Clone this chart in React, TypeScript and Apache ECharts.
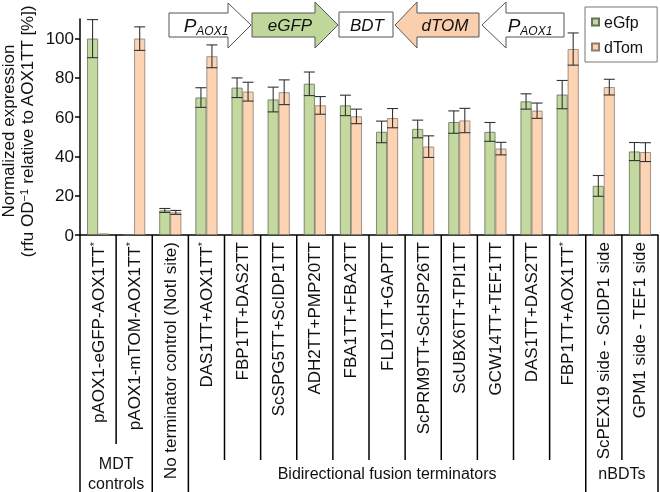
import { useEffect, useRef } from "react";
import * as echarts from "echarts";

const categories = [
  "pAOX1-eGFP-AOX1TT*",
  "pAOX1-mTOM-AOX1TT*",
  "No terminator control (NotI site)",
  "DAS1TT+AOX1TT*",
  "FBP1TT+DAS2TT",
  "ScSPG5TT+ScIDP1TT",
  "ADH2TT+PMP20TT",
  "FBA1TT+FBA2TT",
  "FLD1TT+GAPTT",
  "ScPRM9TT+ScHSP26TT",
  "ScUBX6TT+TPI1TT",
  "GCW14TT+TEF1TT",
  "DAS1TT+DAS2TT",
  "FBP1TT+AOX1TT*",
  "ScPEX19 side - ScIDP1 side",
  "GPM1 side - TEF1 side",
];
const egfp = [100, 0.3, 12.5, 70, 75, 69, 77, 66, 52.5, 54, 57.5, 52.5, 68, 71.5, 25, 42.5];
const egfpErr = [9.7, 0, 1, 5, 5, 6.3, 6, 5.2, 5.5, 4.5, 5.7, 4.8, 3.9, 7.2, 5.3, 4.6];
const dtom = [0.8, 100, 11.5, 91, 73, 72.7, 66, 60.4, 59.5, 45, 58.3, 44, 63.3, 94.7, 75.3, 42.2];
const dtomErr = [0, 6, 1, 5.8, 4.8, 6.3, 4.5, 3.7, 4.9, 5.5, 6.2, 3.2, 3.9, 8.2, 4, 4.8];
const yTicks = [0, 20, 40, 60, 80, 100];
const groups = [
  { label: "MDT\ncontrols", from: 0, to: 2 },
  { label: "", from: 2, to: 3 },
  { label: "Bidirectional fusion terminators", from: 3, to: 14 },
  { label: "nBDTs", from: 14, to: 16 },
];

const FONT = "Liberation Sans, Arial, Helvetica, sans-serif";
const GREEN = "#c3d9a0";
const PEACH = "#fcd3b3";
const BAR_W = 11;

function errorSeries(name: string, vals: number[], errs: number[], offset: number) {
  return {
    name,
    type: "custom",
    z: 5,
    silent: true,
    data: vals.map((v, i) => [i, v, errs[i]]),
    encode: { x: 0, y: 1 },
    renderItem: (params: any, api: any) => {
      const i = api.value(0);
      const v = api.value(1);
      const e = api.value(2);
      if (!e) return null;
      const hi = api.coord([i, v + e]);
      const lo = api.coord([i, v - e]);
      const x = hi[0] + offset;
      const h = BAR_W / 2;
      const st = { stroke: "#333", lineWidth: 1.1 };
      return {
        type: "group",
        children: [
          { type: "line", shape: { x1: x, y1: hi[1], x2: x, y2: lo[1] }, style: st },
          { type: "line", shape: { x1: x - h, y1: hi[1], x2: x + h, y2: hi[1] }, style: st },
          { type: "line", shape: { x1: x - h, y1: lo[1], x2: x + h, y2: lo[1] }, style: st },
        ],
      };
    },
  };
}

function arrowText(x: number, y: number, text: string) {
  return {
    type: "text",
    x,
    y,
    z: 20,
    style: {
      text,
      align: "center",
      verticalAlign: "middle",
      fill: "#111",
      fontFamily: FONT,
      fontStyle: "italic",
      fontSize: 17,
      rich: {
        p: { fontSize: 19, fontStyle: "italic", fontFamily: FONT, lineHeight: 24, fill: "#111" },
        s: { fontSize: 12, fontStyle: "italic", fontFamily: FONT, lineHeight: 13, verticalAlign: "bottom", fill: "#111" },
      },
    },
  };
}

function diagram() {
  const stroke = { stroke: "#555", lineWidth: 1 };
  return [
    { type: "polygon", z: 19, shape: { points: [[169, 13], [228, 13], [228, 3], [251, 25], [228, 48], [228, 37], [169, 37]] }, style: { fill: "#fff", ...stroke } },
    { type: "polygon", z: 19, shape: { points: [[252, 13], [315, 13], [315, 2], [338, 25], [315, 48], [315, 37], [252, 37]] }, style: { fill: "#c0d79c", ...stroke } },
    { type: "rect", z: 19, shape: { x: 339, y: 12, width: 54, height: 25 }, style: { fill: "#fff", ...stroke } },
    { type: "polygon", z: 19, shape: { points: [[395, 25], [417, 2], [417, 13], [479, 13], [479, 37], [417, 37], [417, 48]] }, style: { fill: "#f9cfad", ...stroke } },
    { type: "polygon", z: 19, shape: { points: [[482, 25], [506, 2], [506, 13], [564, 13], [564, 37], [506, 37], [506, 48]] }, style: { fill: "#fff", ...stroke } },
    arrowText(206, 25, "{p|P}{s|AOX1}"),
    arrowText(290, 25, "eGFP"),
    arrowText(367, 25, "BDT"),
    arrowText(445, 25, "dTOM"),
    arrowText(530, 25, "{p|P}{s|AOX1}"),
  ];
}

export default function App() {
  const ref = useRef<HTMLDivElement>(null);

  useEffect(() => {
    if (!ref.current) return;
    const chart = echarts.init(ref.current, null, { renderer: "svg" });
    const option: any = {
      animation: false,
      textStyle: { fontFamily: FONT },
      grid: { left: 80, right: 2, top: 19, bottom: 257 },
      legend: {
        data: ["eGfp", "dTom"],
        orient: "vertical",
        left: 585,
        top: 7,
        padding: [7, 14, 7, 6],
        itemGap: 9,
        itemWidth: 7,
        itemHeight: 7,
        icon: "rect",
        borderColor: "#777",
        borderWidth: 1,
        textStyle: { fontSize: 16, color: "#111", fontFamily: FONT, lineHeight: 16 },
      },
      xAxis: {
        type: "category",
        data: categories,
        axisLine: { lineStyle: { color: "#000", width: 1.5 } },
        axisTick: { show: false },
        axisLabel: {
          interval: 0,
          rotate: 90,
          margin: 7,
          color: "#111",
          formatter: (v: string) => (v.endsWith("*") ? `{n|${v.slice(0, -1)}}{s|*}` : `{n|${v}}`),
          rich: {
            n: { fontSize: 17, fontFamily: FONT, color: "#111", lineHeight: 20 },
            s: { fontSize: 11, fontFamily: FONT, color: "#111", lineHeight: 11, verticalAlign: "top" },
          },
        },
      },
      yAxis: {
        type: "value",
        min: 0,
        max: 110,
        interval: 20,
        splitLine: { show: false },
        axisLine: { show: true, lineStyle: { color: "#000", width: 1.5 } },
        axisTick: { show: true, length: 5, customValues: yTicks, lineStyle: { color: "#000", width: 1.5 } },
        axisLabel: { customValues: yTicks, fontSize: 17, color: "#111", margin: 6, fontFamily: FONT },
      },
      series: [
        {
          name: "eGfp",
          type: "bar",
          data: egfp,
          barWidth: BAR_W,
          barGap: "0%",
          itemStyle: { color: GREEN, borderColor: "#66705a", borderWidth: 0.8 },
        },
        {
          name: "dTom",
          type: "bar",
          data: dtom,
          barWidth: BAR_W,
          barGap: "0%",
          itemStyle: { color: PEACH, borderColor: "#8a7d72", borderWidth: 0.8 },
        },
        errorSeries("eGfpErr", egfp, egfpErr, -BAR_W / 2),
        errorSeries("dTomErr", dtom, dtomErr, BAR_W / 2),
      ],
    };
    chart.setOption(option);

    const c0 = chart.convertToPixel({ xAxisIndex: 0 }, 0) as number;
    const c1 = chart.convertToPixel({ xAxisIndex: 0 }, 1) as number;
    const bw = c1 - c0;
    const edge = (b: number) => c0 - bw / 2 + b * bw;
    const y0 = chart.convertToPixel({ yAxisIndex: 0 }, 0) as number;
    const lineStyle = { stroke: "#000", lineWidth: 1.5 };

    const els: any[] = [...diagram()];
    els.push({
      type: "text",
      x: 18,
      y: 131,
      rotation: Math.PI / 2,
      style: {
        text: "{n|Normalized expression}\n{n|(rfu OD}{s|−1}{n| relative to AOX1TT [%])}",
        align: "center",
        verticalAlign: "middle",
        rich: {
          n: { fontSize: 17, fontFamily: FONT, fill: "#111", lineHeight: 19 },
          s: { fontSize: 11, fontFamily: FONT, fill: "#111", lineHeight: 11, verticalAlign: "top" },
        },
      },
    });
    groups.forEach((g, gi) => {
      if (gi === 0) {
        els.push({ type: "line", shape: { x1: edge(g.from), y1: y0, x2: edge(g.from), y2: 500 }, style: lineStyle });
      }
      els.push({ type: "line", shape: { x1: edge(g.to), y1: y0, x2: edge(g.to), y2: 500 }, style: lineStyle });
      const innerEnd = g.label.includes("\n") ? 444 : 460;
      for (let b = g.from + 1; b < g.to; b++) {
        els.push({ type: "line", shape: { x1: edge(b), y1: y0, x2: edge(b), y2: innerEnd }, style: lineStyle });
      }
      if (g.label) {
        els.push({
          type: "text",
          x: (edge(g.from) + edge(g.to)) / 2,
          y: 473,
          style: {
            text: g.label,
            align: "center",
            verticalAlign: "middle",
            fontSize: 16,
            lineHeight: 20,
            fontFamily: FONT,
            fill: "#111",
          },
        });
      }
    });
    chart.setOption({ graphic: els });

    return () => chart.dispose();
  }, []);

  return <div ref={ref} style={{ position: "fixed", left: 0, top: 0, width: 660, height: 492 }} />;
}
